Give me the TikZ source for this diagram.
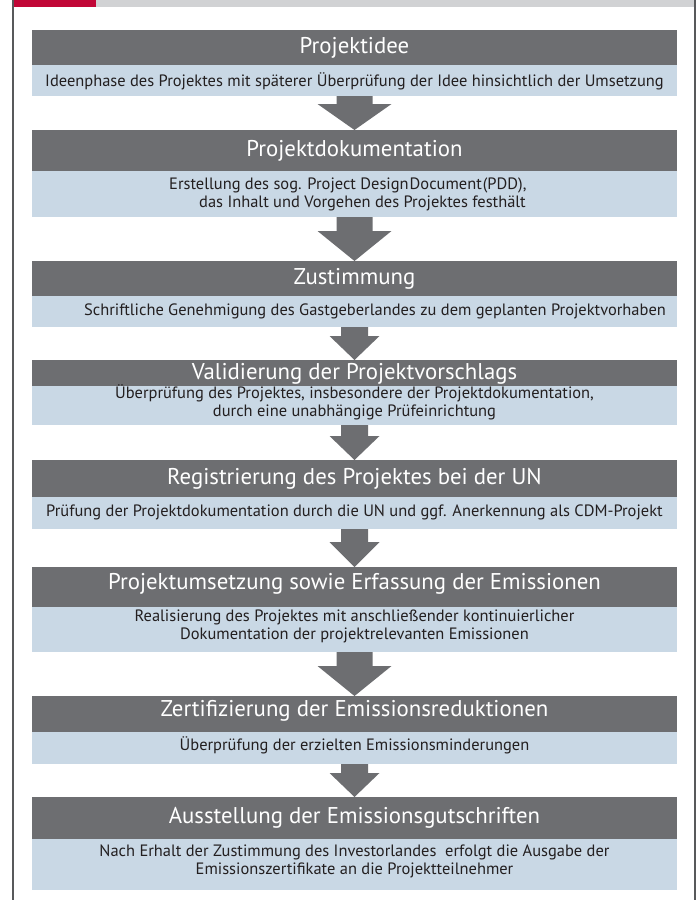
\documentclass[tikz,border=0pt]{standalone}
\usepackage{fontspec}
\setmainfont{PT Sans}
\usetikzlibrary{calc}
\definecolor{headgray}{RGB}{109,110,113}
\definecolor{lightblue}{RGB}{201,216,229}
\definecolor{topred}{RGB}{193,7,55}
\definecolor{topgray}{RGB}{209,210,212}
\definecolor{bordergray}{RGB}{88,89,91}
\definecolor{bodyblack}{RGB}{35,31,32}
\tikzset{
  darkbox/.style={fill=headgray, draw=none, minimum width=645pt, inner sep=0pt, outer sep=0pt},
  lightbox/.style={fill=lightblue, draw=none, minimum width=645pt, inner sep=0pt, outer sep=0pt},
  headtext/.style={text=white, font=\fontsize{22.8}{26}\selectfont, inner sep=0pt},
  bodytext/.style={text=bodyblack, font=\fontsize{16.45}{18}\selectfont, align=center, inner sep=0pt},
  arrowfill/.style={fill=headgray},
  borderline/.style={draw=bordergray, line width=1.6pt}
}
% #1 from node, #2 to node, #3 half shaft, #4 half head, #5 head length
\newcommand{\flowarrow}[5]{%
  \fill[arrowfill] let \p1=(#1.south), \p2=(#2.north) in
    (\x1-#3pt,\y1) -- (\x1+#3pt,\y1) -- (\x1+#3pt,\y2+#5pt) -- (\x1+#4pt,\y2+#5pt)
    -- (\x1,\y2) -- (\x1-#4pt,\y2+#5pt) -- (\x1-#3pt,\y2+#5pt) -- cycle;}
\begin{document}
\begin{tikzpicture}[x=1pt,y=-1pt]
\useasboundingbox (0,0) rectangle (699,900);
% top bar
\fill[topred] (13,0) rectangle (96,7);
\fill[topgray] (96,0) rectangle (695,7);
% borders
\coordinate (bl1) at (13,0); \coordinate (bl2) at (13,900);
\coordinate (br1) at (695,0); \coordinate (br2) at (695,900);
\draw[borderline] (bl1) -- (bl2);
\draw[borderline] (br1) -- (br2);

% Block 1
\node[darkbox, minimum height=35pt] (h1) at (354.5,47.5) {};
\node[lightbox, minimum height=31pt] (l1) at (354.5,80.5) {};
\node[headtext] (th1) at (354.5,47.5) {Projektidee};
\node[bodytext] (tb1) at (354.5,81) {Ideenphase des Projektes mit späterer Überprüfung der Idee hinsichtlich der Umsetzung};

% Block 2
\node[darkbox, minimum height=41pt] (h2) at (354.5,150.5) {};
\node[lightbox, minimum height=46pt] (l2) at (354.5,194) {};
\node[headtext] (th2) at (354.5,151) {Projektdokumentation};
\node[bodytext, align=left, anchor=west] (tb2) at (169,194.5) {Erstellung des sog. Project Design\kern1pt Document\kern1pt(PDD),\\\hspace*{30pt}das Inhalt und Vorgehen des Projektes festhält};

% Block 3
\node[darkbox, minimum height=35pt] (h3) at (354.5,278.5) {};
\node[lightbox, minimum height=31pt] (l3) at (354.5,311.5) {};
\node[headtext] (th3) at (354.5,278.5) {Zustimmung};
\node[bodytext] (tb3) at (375,311.5) {Schriftliche Genehmigung des Gastgeberlandes zu dem geplanten Projektvorhaben};

% Block 4
\node[darkbox, minimum height=26pt] (h4) at (354.5,373) {};
\node[lightbox, minimum height=39pt] (l4) at (354.5,405.5) {};
\node[headtext] (th4) at (354.5,374) {Validierung der Projektvorschlags};
\node[bodytext] (tb4) at (354.5,402) {Überprüfung des Projektes, insbesondere der Projektdokumentation,\\durch eine unabhängige Prüfeinrichtung};

% Block 5
\node[darkbox, minimum height=37pt] (h5) at (354.5,478.5) {};
\node[lightbox, minimum height=32pt] (l5) at (354.5,513) {};
\node[headtext] (th5) at (354.5,478.5) {Registrierung des Projektes bei der UN};
\node[bodytext] (tb5) at (354.5,512.5) {Prüfung der Projektdokumentation durch die UN und ggf. Anerkennung als CDM-Projekt};

% Block 6
\node[darkbox, minimum height=40pt] (h6) at (354.5,587) {};
\node[lightbox, minimum height=45pt] (l6) at (354.5,629.5) {};
\node[headtext] (th6) at (354.5,584) {Projektumsetzung sowie Erfassung der Emissionen};
\node[bodytext] (tb6) at (354.5,626) {Realisierung des Projektes mit anschließender kontinuierlicher\\Dokumentation der projektrelevanten Emissionen};

% Block 7
\node[darkbox, minimum height=36pt] (h7) at (354.5,714) {};
\node[lightbox, minimum height=32pt] (l7) at (354.5,748) {};
\node[headtext] (th7) at (354.5,711) {Zertifizierung der Emissionsreduktionen};
\node[bodytext] (tb7) at (354.5,745) {Überprüfung der erzielten Emissionsminderungen};

% Block 8
\node[darkbox, minimum height=42pt] (h8) at (354.5,818) {};
\node[lightbox, minimum height=51pt] (l8) at (354.5,864.5) {};
\node[headtext] (th8) at (354.5,818) {Ausstellung der Emissionsgutschriften};
\node[bodytext] (tb8) at (354.5,861) {Nach Erhalt der Zustimmung des Investorlandes\ \ erfolgt die Ausgabe der\\Emissionszertifikate an die Projektteilnehmer};

% arrows
\flowarrow{l1}{h2}{18}{37}{26}
\flowarrow{l2}{h3}{18}{37}{30}
\flowarrow{l3}{h4}{13.5}{25}{24}
\flowarrow{l4}{h5}{13.5}{25}{24}
\flowarrow{l5}{h6}{13.5}{25}{25}
\flowarrow{l6}{h7}{18}{37}{30}
\flowarrow{l7}{h8}{13.5}{25}{24}
\end{tikzpicture}
\end{document}
